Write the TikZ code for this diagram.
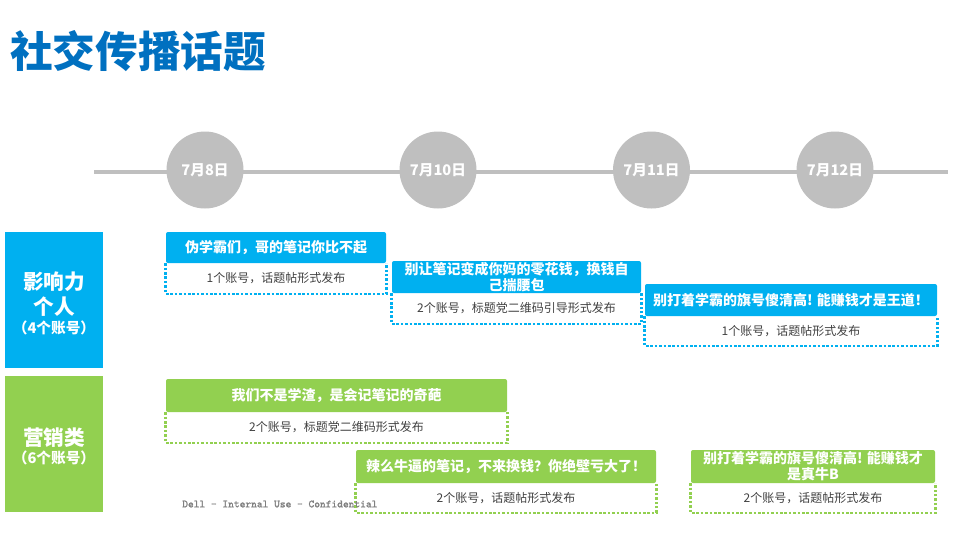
\documentclass[tikz,border=0pt]{standalone}
\usepackage{fontspec}
\setmainfont{Noto Sans CJK SC}
\newfontfamily\notefont{lmmono10-regular.otf}[FakeBold=1.6]
\usepackage{tikz}
\usetikzlibrary{positioning}

\definecolor{titleblue}{HTML}{0070C0}
\definecolor{skyblue}{HTML}{00B0F0}
\definecolor{leafgreen}{HTML}{92D050}
\definecolor{linegray}{HTML}{BFBFBF}
\definecolor{bodygray}{HTML}{404040}
\definecolor{notegray}{HTML}{808080}

\tikzset{
  timeline/.style={line width=3pt, linegray},
  datecirc/.style={circle, fill=linegray, minimum size=57.75pt, inner sep=0pt,
    text=white, font=\bfseries\fontsize{11}{13}\selectfont},
  sidebox/.style={rectangle, minimum width=73.5pt, minimum height=102pt, inner sep=0pt},
  sidetext/.style={text=white, align=center, inner sep=0pt},
  head/.style={rectangle, rounded corners=1.5pt, inner sep=0pt, text=white, align=center,
    font=\bfseries\fontsize{10.5}{12}\selectfont},
  body/.style={rectangle, inner sep=0pt, text=bodygray, font=\fontsize{9}{11}\selectfont},
  dots/.style={line width=1.9pt, dash pattern=on 1.9pt off 1.4pt}
}

\begin{document}
\begin{tikzpicture}[x=0.75pt, y=-0.75pt]
    \useasboundingbox (0,0) rectangle (960,540);
    % title
    \node[anchor=west, inner sep=0pt, text=titleblue, font=\bfseries\fontsize{32}{36}\selectfont]
        (title) at (10,51) {社交传播话题};
    % timeline
    \coordinate (tl) at (94,171.5);
    \coordinate (tr) at (948,171.5);
    \draw[timeline] (tl) -- (tr);
    \foreach \x/\d in {205/8, 438/10, 651.5/11, 835/12}
        \node[datecirc] (d\d) at (\x,170) {7月{\d}日};
    % left labels
    \node[sidebox, fill=skyblue] (infl) at (54,300) {};
    \node[sidetext, font=\bfseries\fontsize{15.5}{18.75}\selectfont] (infltxt) at (54,294.5) {影响力\\个人};
    \node[sidetext, font=\bfseries\fontsize{11}{13}\selectfont] (inflnum) at (54,328) {（4个账号）};
    \node[sidebox, fill=leafgreen] (mkt) at (54,444) {};
    \node[sidetext, font=\bfseries\fontsize{15.5}{18.75}\selectfont] (mkttxt) at (54,438) {营销类};
    \node[sidetext, font=\bfseries\fontsize{11}{13}\selectfont] (mktnum) at (54,458) {（6个账号）};
    % blue topics
    \node[head, fill=skyblue, minimum width=165pt, minimum height=23.25pt] (b1) at (276,247.5)
        {伪学霸们，哥的笔记你比不起};
    \node[body, minimum width=165pt, minimum height=22.5pt, below=0pt of b1] (b1s)
        {1个账号，话题帖形式发布};
    \draw[dots, skyblue] (b1s.north west) -- (b1s.south west) -- (b1s.south east) -- (b1s.north east);
    \node[head, fill=skyblue, minimum width=186.75pt, minimum height=24pt] (b2) at (516.5,277)
        {别让笔记变成你妈的零花钱，换钱自\\己揣腰包};
    \node[body, minimum width=186.75pt, minimum height=22.5pt, below=0pt of b2] (b2s)
        {2个账号，标题党二维码引导形式发布};
    \draw[dots, skyblue] (b2s.north west) -- (b2s.south west) -- (b2s.south east) -- (b2s.north east);
    \node[head, fill=skyblue, minimum width=219pt, minimum height=24pt] (b3) at (791,300)
        {别打着学霸的旗号傻清高! 能赚钱才是王道！};
    \node[body, minimum width=219pt, minimum height=21.75pt, below=0pt of b3] (b3s)
        {1个账号，话题帖形式发布};
    \draw[dots, skyblue] (b3s.north west) -- (b3s.south west) -- (b3s.south east) -- (b3s.north east);
    % green topics
    \node[head, fill=leafgreen, minimum width=255.75pt, minimum height=24.75pt] (g1) at (336.5,395.5)
        {我们不是学渣，是会记笔记的奇葩};
    \node[body, minimum width=255.75pt, minimum height=22.5pt, below=0pt of g1] (g1s)
        {2个账号，标题党二维码形式发布};
    \draw[dots, leafgreen] (g1s.north west) -- (g1s.south west) -- (g1s.south east) -- (g1s.north east);
    \node[head, fill=leafgreen, minimum width=225pt, minimum height=24.75pt] (g2) at (506,466.5)
        {辣么牛逼的笔记，不来换钱？你绝壁亏大了！};
    \node[body, minimum width=225pt, minimum height=21.75pt, below=0pt of g2] (g2s)
        {2个账号，话题帖形式发布};
    \draw[dots, leafgreen] (g2s.north west) -- (g2s.south west) -- (g2s.south east) -- (g2s.north east);
    \node[head, fill=leafgreen, minimum width=183pt, minimum height=24.75pt] (g3) at (813,466.5)
        {别打着学霸的旗号傻清高! 能赚钱才\\是真牛B};
    \node[body, minimum width=183pt, minimum height=21.75pt, below=0pt of g3] (g3s)
        {2个账号，话题帖形式发布};
    \draw[dots, leafgreen] (g3s.north west) -- (g3s.south west) -- (g3s.south east) -- (g3s.north east);
    % footer note
    \node[anchor=west, inner sep=0pt, text=notegray, font=\notefont\fontsize{8.2}{10}\selectfont]
        (note) at (182,504) {Dell – Internal Use – Confidential};
\end{tikzpicture}
\end{document}
